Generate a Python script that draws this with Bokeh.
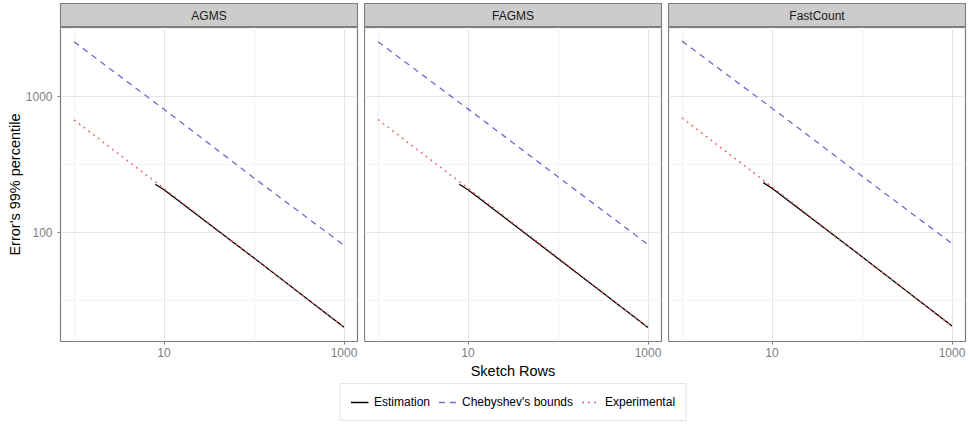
from bokeh.plotting import figure
from bokeh.models import Range1d, FixedTicker, NumeralTickFormatter, Label, Legend, LegendItem
from bokeh.layouts import row, column
from bokeh.embed import file_html
from bokeh.resources import INLINE

# ---------------- data ----------------
methods = ["AGMS", "FAGMS", "FastCount"]

rows = [1, 10, 100, 1000]
est_rows = [8, 10, 100, 1000]

cheb_agms = [2507, 800, 250, 80]
cheb_fagms = [2507, 805, 255, 81]
cheb_fastcount = [2535, 815, 258, 82.4]

exp_agms = [669, 209, 64.5, 20]
exp_fagms = [672, 210, 65, 19.9]
exp_fastcount = [692, 215, 66, 20.4]

est_agms = [225, 205, 64.5, 20]
est_fagms = [225, 205, 64, 19.9]
est_fastcount = [231, 210, 66, 20.4]

x_ticks = [10, 1000]
x_minor = [1, 100]
y_ticks = [100, 1000]
y_minor = [31.62, 316.2, 3162]

series_labels = ["Estimation", "Chebyshev's bounds", "Experimental"]

cheb = [cheb_agms, cheb_fagms, cheb_fastcount]
expv = [exp_agms, exp_fagms, exp_fastcount]
estv = [est_agms, est_fagms, est_fastcount]

# ---------------- style ----------------
FONT = "Liberation Sans"
GREY50 = "#7F7F7F"
COL_EST = "#000000"
COL_CHEB = "#6B6BD2"
COL_EXP = "#F25A5A"
DASH_CHEB = "6 5"
DASH_EXP = "2 4"
LW = 1.3

x_range = Range1d(10 ** -0.15, 10 ** 3.15)
y_range = Range1d(10 ** 1.196, 10 ** 3.504)

widths = [364, 304, 303]
left_b = [60, 0, 0]
right_b = [7, 7, 6]
STRIP_H = 27
PANEL_H = 336
BOTTOM_H = 426 - STRIP_H - PANEL_H

strips = []
panels = []
for i, m in enumerate(methods):
    s = figure(width=widths[i], height=STRIP_H, x_range=Range1d(0, 1), y_range=Range1d(0, 1),
               x_axis_location=None, y_axis_location=None, toolbar_location=None,
               output_backend="svg", min_border_left=left_b[i], min_border_right=right_b[i],
               min_border_top=3, min_border_bottom=0)
    s.grid.visible = False
    s.background_fill_color = "#CCCCCC"
    s.border_fill_color = "white"
    s.outline_line_color = GREY50
    s.outline_line_width = 1.2
    s.add_layout(Label(x=0.5, y=0.5, text=m, text_align="center", text_baseline="middle",
                       text_font=FONT, text_font_size="12px", text_color="#1A1A1A"))
    strips.append(s)

    p = figure(width=widths[i], height=PANEL_H, x_axis_type="log", y_axis_type="log",
               x_range=x_range, y_range=y_range, toolbar_location=None, output_backend="svg",
               min_border_left=left_b[i], min_border_right=right_b[i],
               min_border_top=0, min_border_bottom=22)
    p.background_fill_color = "white"
    p.border_fill_color = "white"
    p.outline_line_color = GREY50
    p.outline_line_width = 1.2

    xt = FixedTicker(ticks=x_ticks, minor_ticks=x_minor)
    yt = FixedTicker(ticks=y_ticks, minor_ticks=y_minor)
    p.xaxis.ticker = xt
    p.yaxis.ticker = yt
    p.xgrid.ticker = xt
    p.ygrid.ticker = yt
    for g in (p.xgrid, p.ygrid):
        g.grid_line_color = "#E5E5E5"
        g.grid_line_width = 1
        g.minor_grid_line_color = "#F3F3F3"
        g.minor_grid_line_width = 1.2

    for ax in (p.xaxis, p.yaxis):
        ax.formatter = NumeralTickFormatter(format="0")
        ax.axis_line_color = None
        ax.major_tick_in = 0
        ax.major_tick_out = 3
        ax.major_tick_line_color = GREY50
        ax.minor_tick_line_color = None
        ax.major_label_text_font = FONT
        ax.major_label_text_font_size = "12px"
        ax.major_label_text_color = GREY50
    p.xaxis.major_label_standoff = 2
    p.yaxis.major_label_standoff = 4
    if i == 0:
        p.yaxis.axis_label = "Error's 99% percentile"
        p.yaxis.axis_label_text_font = FONT
        p.yaxis.axis_label_text_font_size = "14.5px"
        p.yaxis.axis_label_text_font_style = "normal"
        p.yaxis.axis_label_text_color = "black"
        p.yaxis.axis_label_standoff = 0
    else:
        p.yaxis.visible = False

    p.line(est_rows, estv[i], line_color=COL_EST, line_width=LW)
    p.line(rows, cheb[i], line_color=COL_CHEB, line_width=LW, line_dash=DASH_CHEB)
    p.line(rows, expv[i], line_color=COL_EXP, line_width=LW, line_dash=DASH_EXP)
    panels.append(p)

# ---------------- bottom: axis title + legend ----------------
b = figure(width=971, height=BOTTOM_H, x_range=Range1d(0, 1), y_range=Range1d(0, BOTTOM_H),
           x_axis_location=None, y_axis_location=None, toolbar_location=None,
           output_backend="svg", min_border_left=60, min_border_right=6,
           min_border_top=0, min_border_bottom=0)
b.grid.visible = False
b.outline_line_color = None
b.background_fill_color = "white"
b.border_fill_color = "white"
b.add_layout(Label(x=0.5, y=BOTTOM_H - 7, text="Sketch Rows", text_align="center",
                   text_baseline="middle", text_font=FONT, text_font_size="14.5px",
                   text_color="black"))
nan = float("nan")
r1 = b.line([nan], [nan], line_color=COL_EST, line_width=LW)
r2 = b.line([nan], [nan], line_color=COL_CHEB, line_width=LW, line_dash=DASH_CHEB)
r3 = b.line([nan], [nan], line_color=COL_EXP, line_width=LW, line_dash=DASH_EXP)
legend = Legend(items=[LegendItem(label=series_labels[0], renderers=[r1]),
                       LegendItem(label=series_labels[1], renderers=[r2]),
                       LegendItem(label=series_labels[2], renderers=[r3])],
                orientation="horizontal", location="bottom_center", margin=5,
                padding=10, spacing=8, glyph_width=18, glyph_height=16, label_height=16,
                label_standoff=6, label_text_font=FONT, label_text_font_size="12px",
                label_text_color="black", border_line_color="#CCCCCC", border_line_width=1.2,
                background_fill_color="white", background_fill_alpha=1)
b.add_layout(legend)

layout = column(row(*strips), row(*panels), b)
open("out.html", "w").write(file_html(layout, INLINE))
